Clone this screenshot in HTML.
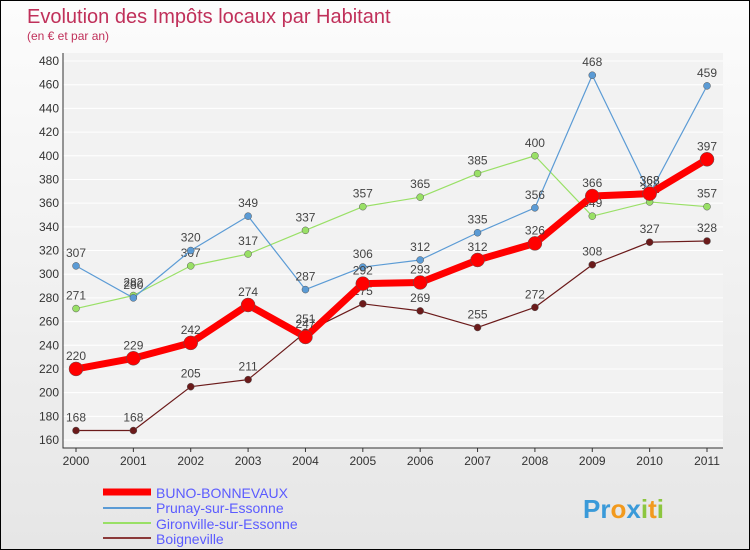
<!DOCTYPE html>
<html><head><meta charset="utf-8"><style>
body{margin:0;}
#c{width:748px;height:548px;border:1px solid #000;background:linear-gradient(#fcfcfc,#e6e6e6);position:relative;font-family:"Liberation Sans",sans-serif;overflow:hidden}
</style></head><body>
<div id="c">
<svg id="s" width="748" height="548" xmlns="http://www.w3.org/2000/svg">
<text x="26" y="22" font-size="20" fill="#c0305a">Evolution des Impôts locaux par Habitant</text>
<text x="26" y="39" font-size="12" fill="#c0305a">(en € et par an)</text>
<rect x="62" y="52" width="660" height="395" fill="#f2f2f2"/>
<g id="grid"></g><g id="axes"></g><g id="series"></g>
<g font-size="14">
<line x1="102" y1="491" x2="150" y2="491" stroke="#ff0000" stroke-width="7"/>
<text x="155" y="497" fill="#5b5bff">BUNO-BONNEVAUX</text>
<line x1="102" y1="507" x2="150" y2="507" stroke="#5b9bd5" stroke-width="2"/>
<text x="155" y="512" fill="#5b5bff">Prunay-sur-Essonne</text>
<line x1="102" y1="522" x2="150" y2="522" stroke="#99e066" stroke-width="2"/>
<text x="155" y="528" fill="#5b5bff">Gironville-sur-Essonne</text>
<line x1="102" y1="537" x2="150" y2="537" stroke="#8b3a3a" stroke-width="2"/>
<text x="155" y="543" fill="#5b5bff">Boigneville</text>
</g>
<text x="582" y="517" font-size="26" font-weight="bold" fill="#3a9ad9">Pr<tspan fill="#f29a1e">o</tspan><tspan fill="#3a9ad9">x</tspan><tspan fill="#8cc63f">i</tspan><tspan fill="#f29a1e">t</tspan><tspan fill="#8cc63f">i</tspan></text>
</svg></div>
<script>
const years=[2000,2001,2002,2003,2004,2005,2006,2007,2008,2009,2010,2011];
const buno=[220,229,242,274,247,292,293,312,326,366,368,397];
const prunay=[307,280,320,349,287,306,312,335,356,468,368,459];
const gironville=[271,282,307,317,337,357,365,385,400,349,361,357];
const boigneville=[168,168,205,211,251,275,269,255,272,308,327,328];
const yTicks=[160,180,200,220,240,260,280,300,320,340,360,380,400,420,440,460,480];
const NS="http://www.w3.org/2000/svg";
const X=i=>75+i*(706-75)/11;
const Y=v=>439-(v-160)*(439-60)/320;
function mk(tag,attrs,parent){const e=document.createElementNS(NS,tag);for(const k in attrs)e.setAttribute(k,attrs[k]);parent.appendChild(e);return e;}
const grid=document.getElementById('grid'),axes=document.getElementById('axes'),ser=document.getElementById('series');
yTicks.forEach(t=>{
 const l=mk('line',{x1:62,x2:722,y1:Y(t),y2:Y(t),stroke:'#fff','stroke-width':1},grid);
 
 
 const tx=mk('text',{x:58,y:Y(t)+4,'font-size':12,fill:'#333','text-anchor':'end'},axes);
 tx.textContent=t;
 
 
});
const ax=mk('path',{d:'M62 52V447H722',stroke:'#333',fill:'none'},axes);


years.forEach((y,i)=>{
 const tx=mk('text',{x:X(i),y:464,'font-size':12,fill:'#333','text-anchor':'middle'},axes);
 tx.textContent=y;
 
 
 const tk=mk('line',{x1:X(i),x2:X(i),y1:447,y2:451,stroke:'#333'},axes);
 
 
});
function series(data,color,w,r,name){
 const g=mk('g',{},ser);
 
 
 const pl=mk('polyline',{points:data.map((v,i)=>X(i)+','+Y(v)).join(' '),fill:'none',stroke:color,'stroke-width':w,'stroke-linejoin':'round'},g);
 
 
 data.forEach((v,i)=>{
  const c=mk('circle',{cx:X(i),cy:Y(v),r:r,fill:color,stroke:'#555','stroke-width':0.5},g);
  
  
  const t=mk('text',{x:X(i),y:Y(v)-9,'font-size':12,fill:'#444','text-anchor':'middle'},g);
  t.textContent=v;
  
  
 });
}
series(boigneville,'#6b1a1a',1.2,3.5,'boigneville');
series(gironville,'#99e066',1.2,3.5,'gironville');
series(prunay,'#5b9bd5',1.2,3.5,'prunay');
series(buno,'#ff0000',7,7,'buno');
</script>
</body></html>
